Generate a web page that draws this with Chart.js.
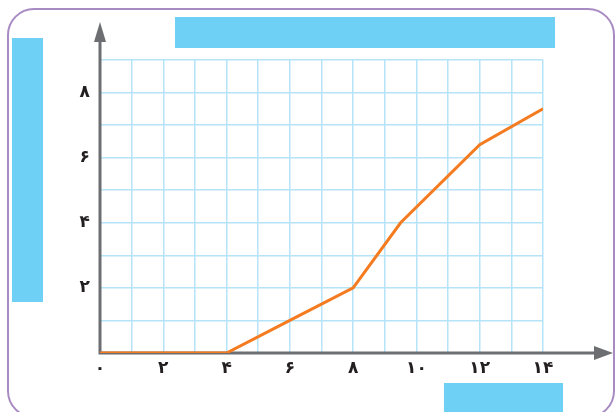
<!DOCTYPE html>
<html lang="fa">
  <head>
    <meta charset="UTF-8" />
    <title>نمودار</title>
    <script src="https://cdn.jsdelivr.net/npm/chart.js@4.4.0/dist/chart.umd.min.js"></script>
    <style>
      body { margin: 0; background: #fff; }
      canvas { display: block; }
    </style>
  </head>
  <body>
    <canvas id="chart" width="615" height="412"></canvas>
    <script>
      // data
      const xValues = [0, 4, 6, 8, 9.5, 12, 14];
      const yValues = [0, 0, 1, 2, 4, 6.4, 7.5];
      const xTicks = [0, 2, 4, 6, 8, 10, 12, 14];
      const yTicks = [2, 4, 6, 8];

      const faDigits = ["۰", "۱", "۲", "۳", "۴", "۵", "۶", "۷", "۸", "۹"];
      function toFa(n) {
        return String(n).replace(/[0-9]/g, function (d) { return faDigits[d]; });
      }

      const points = xValues.map(function (x, i) { return { x: x, y: yValues[i] }; });

      const gridColor = "#b5e4f8";
      const axisColor = "#6d6e71";
      const boxColor = "#6fd0f5";

      // frame, blue boxes, axis arrows
      const decor = {
        id: "decor",
        beforeDraw(chart) {
          const c = chart.ctx;
          c.save();
          c.fillStyle = "#fff";
          c.fillRect(0, 0, chart.width, chart.height);
          // rounded purple frame
          c.strokeStyle = "#a98bc3";
          c.lineWidth = 2;
          c.beginPath();
          c.roundRect(8, 9, 606, 408, 26);
          c.stroke();
          // blue placeholder boxes
          c.fillStyle = boxColor;
          c.fillRect(175, 17, 380, 31);
          c.fillRect(12, 38, 31, 264);
          c.fillRect(444, 383, 119, 30);
          c.restore();
        },
        beforeDatasetsDraw(chart) {
          const c = chart.ctx;
          const x0 = chart.scales.x.getPixelForValue(0);
          const y0 = chart.scales.y.getPixelForValue(0);
          c.save();
          c.strokeStyle = axisColor;
          c.fillStyle = axisColor;
          c.lineWidth = 3;
          c.beginPath();
          c.moveTo(x0, y0 + 1.5);
          c.lineTo(x0, 40);
          c.moveTo(x0 - 1.5, y0);
          c.lineTo(596, y0);
          c.stroke();
          // arrow heads
          c.beginPath();
          c.moveTo(x0, 22);
          c.lineTo(x0 - 6, 42);
          c.lineTo(x0 + 6, 42);
          c.closePath();
          c.fill();
          c.beginPath();
          c.moveTo(613, y0);
          c.lineTo(594, y0 - 7);
          c.lineTo(594, y0 + 7);
          c.closePath();
          c.fill();
          c.restore();
        },
      };

      const ctx = document.querySelector("#chart").getContext("2d");
      new Chart(ctx, {
        type: "line",
        data: {
          datasets: [
            {
              data: points,
              borderColor: "#f47b20",
              borderWidth: 3,
              pointRadius: 0,
              tension: 0,
              fill: false,
            },
          ],
        },
        options: {
          responsive: false,
          animation: false,
          layout: { padding: { left: 0, top: 60, right: 72, bottom: 0 } },
          plugins: { legend: { display: false }, tooltip: { enabled: false } },
          scales: {
            x: {
              type: "linear",
              min: 0,
              max: 14,
              afterFit(scale) { scale.height = 59; },
              grid: { color: gridColor, lineWidth: 1.5, drawTicks: false },
              border: { display: false },
              afterBuildTicks(scale) {
                scale.ticks = [];
                for (let v = 0; v <= 14; v++) scale.ticks.push({ value: v });
              },
              ticks: {
                padding: 5,
                color: "#231f20",
                font: { family: "DejaVu Sans", size: 17, weight: "bold" },
                maxRotation: 0,
                autoSkip: false,
                callback: function (v) { return xTicks.includes(v) ? toFa(v) : ""; },
              },
            },
            y: {
              min: 0,
              max: 9,
              afterFit(scale) { scale.width = 100; },
              grid: { color: gridColor, lineWidth: 1.5, drawTicks: false },
              border: { display: false },
              afterBuildTicks(scale) {
                scale.ticks = [];
                for (let v = 0; v <= 9; v++) scale.ticks.push({ value: v });
              },
              ticks: {
                padding: 10,
                color: "#231f20",
                font: { family: "DejaVu Sans", size: 17, weight: "bold" },
                autoSkip: false,
                callback: function (v) { return yTicks.includes(v) ? toFa(v) : ""; },
              },
            },
          },
        },
        plugins: [decor],
      });
    </script>
  </body>
</html>
